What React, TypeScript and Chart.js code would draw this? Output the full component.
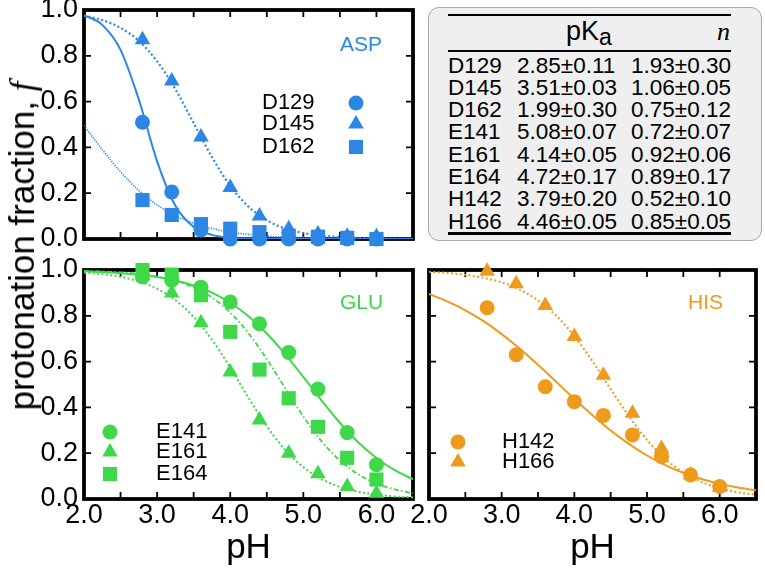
import React, { useEffect, useRef } from 'react';
import { Chart, registerables } from 'chart.js';

Chart.register(...registerables);

const FONT = '"Liberation Sans", Arial, Helvetica, sans-serif';
const SERIF = '"Liberation Serif", "DejaVu Serif", serif';
const BLUE = '#2b86e6';
const GREEN = '#3fd84a';
const ORANGE = '#ee9a1c';

// measured pH values of the data points
const phPoints = [2.8, 3.2, 3.6, 4.0, 4.4, 4.8, 5.2, 5.6, 6.0];
// pH grid of the fitted curves
const phFit = [2.0, 2.25, 2.5, 2.75, 3.0, 3.25, 3.5, 3.75, 4.0, 4.25, 4.5, 4.75, 5.0, 5.25, 5.5, 5.75, 6.0, 6.25, 6.5];

// ASP
const d129Pts = [0.51, 0.205, 0.04, 0.0, 0.0, 0.0, 0.0, 0.0, 0.0];
const d145Pts = [0.87, 0.69, 0.445, 0.225, 0.1, 0.045, 0.022, 0.012, 0.01];
const d162Pts = [0.17, 0.105, 0.065, 0.045, 0.03, 0.015, 0.01, 0.005, 0.0];
const d129Fit = [0.978, 0.935, 0.826, 0.609, 0.339, 0.145, 0.053, 0.018, 0.006, 0.002, 0.001, 0, 0, 0, 0, 0, 0, 0, 0];
const d145Fit = [0.975, 0.956, 0.922, 0.865, 0.776, 0.654, 0.506, 0.358, 0.232, 0.141, 0.082, 0.046, 0.026, 0.014, 0.008, 0.004, 0.002, 0.001, 0.001];
const d162Fit = [0.496, 0.39, 0.293, 0.212, 0.149, 0.102, 0.069, 0.046, 0.03, 0.02, 0.013, 0.008, 0.006, 0.004, 0.002, 0.002, 0.001, 0.001, 0.0];

// GLU
const e141Pts = [0.97, 0.955, 0.925, 0.86, 0.765, 0.64, 0.48, 0.29, 0.15];
const e161Pts = [0.975, 0.9, 0.77, 0.555, 0.345, 0.2, 0.11, 0.055, 0.025];
const e164Pts = [1.0, 0.98, 0.89, 0.73, 0.565, 0.44, 0.315, 0.18, 0.085];
const e141Fit = [0.994, 0.991, 0.986, 0.979, 0.969, 0.954, 0.932, 0.901, 0.857, 0.798, 0.723, 0.633, 0.533, 0.43, 0.333, 0.248, 0.179, 0.126, 0.087];
const e161Fit = [0.989, 0.982, 0.97, 0.95, 0.918, 0.868, 0.795, 0.696, 0.574, 0.442, 0.318, 0.215, 0.139, 0.087, 0.053, 0.032, 0.019, 0.011, 0.007];
const e164Fit = [0.996, 0.994, 0.99, 0.983, 0.971, 0.953, 0.924, 0.88, 0.814, 0.724, 0.611, 0.485, 0.36, 0.252, 0.168, 0.108, 0.068, 0.042, 0.025];

// HIS
const h142Pts = [0.835, 0.63, 0.49, 0.425, 0.365, 0.28, 0.185, 0.105, 0.055];
const h166Pts = [0.995, 0.94, 0.845, 0.71, 0.54, 0.375, 0.22, 0.105, 0.05];
const h142Fit = [0.895, 0.863, 0.824, 0.777, 0.72, 0.656, 0.586, 0.512, 0.437, 0.366, 0.299, 0.241, 0.19, 0.148, 0.114, 0.087, 0.066, 0.05, 0.038];
const h166Fit = [0.992, 0.987, 0.979, 0.966, 0.946, 0.914, 0.867, 0.801, 0.711, 0.601, 0.48, 0.362, 0.258, 0.176, 0.116, 0.074, 0.047, 0.029, 0.018];

// table
const residues = ['D129', 'D145', 'D162', 'E141', 'E161', 'E164', 'H142', 'H166'];
const pKaText = ['2.85±0.11', '3.51±0.03', '1.99±0.30', '5.08±0.07', '4.14±0.05', '4.72±0.17', '3.79±0.20', '4.46±0.05'];
const nText = ['1.93±0.30', '1.06±0.05', '0.75±0.12', '0.72±0.07', '0.92±0.06', '0.89±0.17', '0.52±0.10', '0.85±0.05'];

const W = 765;
const H = 569;

type Series = {
  label: string; pts: number[]; fit: number[]; style: string; radius: number; dash: number[]; width: number;
};

type Panel = {
  tag: string; color: string;
  area: { l: number; t: number; r: number; b: number };
  showX: boolean; showY: boolean;
  series: Series[];
  tagPos: { x: number; y: number };
  legend: { label: string; textX: number; markerX: number; y: number }[];
};

const panels: Panel[] = [
  {
    tag: 'ASP', color: BLUE, area: { l: 84, t: 10, r: 413, b: 239 }, showX: false, showY: true,
    series: [
      { label: 'D129', pts: d129Pts, fit: d129Fit, style: 'circle', radius: 7.5, dash: [], width: 2 },
      { label: 'D145', pts: d145Pts, fit: d145Fit, style: 'triangle', radius: 9, dash: [2, 2.4], width: 2.2 },
      { label: 'D162', pts: d162Pts, fit: d162Fit, style: 'rect', radius: 10, dash: [1.2, 1.3], width: 1.6 },
    ],
    tagPos: { x: 256, y: 35 },
    legend: [
      { label: 'D129', textX: 178, markerX: 272, y: 93 },
      { label: 'D145', textX: 178, markerX: 272, y: 114 },
      { label: 'D162', textX: 178, markerX: 272, y: 137 },
    ],
  },
  {
    tag: 'GLU', color: GREEN, area: { l: 84, t: 270, r: 413, b: 499 }, showX: true, showY: true,
    series: [
      { label: 'E141', pts: e141Pts, fit: e141Fit, style: 'circle', radius: 7.5, dash: [], width: 2 },
      { label: 'E161', pts: e161Pts, fit: e161Fit, style: 'triangle', radius: 9, dash: [2, 2.4], width: 2 },
      { label: 'E164', pts: e164Pts, fit: e164Fit, style: 'rect', radius: 10, dash: [5, 2.5, 1.5, 2.5], width: 1.8 },
    ],
    tagPos: { x: 256, y: 33 },
    legend: [
      { label: 'E141', textX: 72, markerX: 26, y: 162 },
      { label: 'E161', textX: 72, markerX: 26, y: 182 },
      { label: 'E164', textX: 72, markerX: 26, y: 204 },
    ],
  },
  {
    tag: 'HIS', color: ORANGE, area: { l: 429, t: 270, r: 758, b: 499 }, showX: true, showY: false,
    series: [
      { label: 'H142', pts: h142Pts, fit: h142Fit, style: 'circle', radius: 7.5, dash: [], width: 2 },
      { label: 'H166', pts: h166Pts, fit: h166Fit, style: 'triangle', radius: 9, dash: [2, 2.4], width: 2 },
    ],
    tagPos: { x: 259, y: 33 },
    legend: [
      { label: 'H142', textX: 73, markerX: 29, y: 172 },
      { label: 'H166', textX: 73, markerX: 29, y: 192 },
    ],
  },
];

function drawMarker(ctx: CanvasRenderingContext2D, style: string, x: number, y: number, r: number, color: string) {
  ctx.fillStyle = color;
  ctx.beginPath();
  if (style === 'circle') {
    ctx.arc(x, y, r, 0, Math.PI * 2);
  } else if (style === 'rect') {
    const s = Math.SQRT1_2 * r;
    ctx.rect(x - s, y - s, 2 * s, 2 * s);
  } else {
    for (let k = 0; k < 3; k++) {
      const a = (k * 2 * Math.PI) / 3;
      const px = x + Math.sin(a) * r;
      const py = y - Math.cos(a) * r;
      if (k === 0) ctx.moveTo(px, py); else ctx.lineTo(px, py);
    }
  }
  ctx.closePath();
  ctx.fill();
}

function makeConfig(p: Panel): any {
  const pointSets = p.series.slice().reverse().map((s) => ({
    label: s.label,
    data: phPoints.map((x, i) => ({ x, y: s.pts[i] })),
    showLine: false,
    pointStyle: s.style,
    pointRadius: s.radius,
    pointHoverRadius: s.radius,
    pointBackgroundColor: p.color,
    pointBorderColor: p.color,
    pointBorderWidth: 0,
    backgroundColor: p.color,
    borderColor: p.color,
    clip: false,
  }));
  const fitSets = p.series.map((s) => ({
    label: s.label + ' fit',
    data: phFit.map((x, i) => ({ x, y: s.fit[i] })),
    showLine: true,
    pointRadius: 0,
    pointHoverRadius: 0,
    borderColor: p.color,
    borderWidth: s.width,
    borderDash: s.dash,
    cubicInterpolationMode: 'monotone',
    fill: false,
  }));

  const framePlugin = {
    id: 'frame' + p.tag,
    beforeDatasetsDraw(chart: any) {
      const { ctx, chartArea: a, scales } = chart;
      ctx.save();
      ctx.strokeStyle = '#000';
      ctx.lineWidth = 1.8;
      const TL = 7;
      ctx.beginPath();
      for (const t of scales.x.ticks) {
        const px = scales.x.getPixelForValue(t.value);
        ctx.moveTo(px, a.bottom); ctx.lineTo(px, a.bottom - TL);
        ctx.moveTo(px, a.top); ctx.lineTo(px, a.top + TL);
      }
      for (const t of scales.y.ticks) {
        const py = scales.y.getPixelForValue(t.value);
        ctx.moveTo(a.left, py); ctx.lineTo(a.left + TL, py);
        ctx.moveTo(a.right, py); ctx.lineTo(a.right - TL, py);
      }
      ctx.stroke();
      ctx.lineWidth = 3.8;
      ctx.strokeRect(a.left, a.top, a.right - a.left, a.bottom - a.top);
      ctx.restore();
    },
    afterDatasetsDraw(chart: any) {
      const { ctx, chartArea: a } = chart;
      ctx.save();
      ctx.textBaseline = 'middle';
      ctx.textAlign = 'left';
      ctx.fillStyle = p.color;
      ctx.font = `21px ${FONT}`;
      ctx.fillText(p.tag, a.left + p.tagPos.x, a.top + p.tagPos.y);
      for (const it of p.legend) {
        const ds = chart.data.datasets.find((d: any) => d.label === it.label);
        ctx.fillStyle = '#000';
        ctx.font = `22px ${FONT}`;
        ctx.fillText(ds.label, a.left + it.textX, a.top + it.y);
        drawMarker(ctx, ds.pointStyle, a.left + it.markerX, a.top + it.y, ds.pointRadius, p.color);
      }
      ctx.restore();
    },
  };

  const XH = p.showX ? 70 : 0;
  return {
    type: 'scatter',
    data: { datasets: [...pointSets, ...fitSets] },
    plugins: [framePlugin],
    options: {
      responsive: false,
      animation: false,
      devicePixelRatio: 1,
      events: [],
      layout: { padding: { left: 0, top: p.area.t, right: W - p.area.r, bottom: H - p.area.b - XH } },
      plugins: { legend: { display: false }, tooltip: { enabled: false }, title: { display: false } },
      scales: {
        x: {
          type: 'linear', min: 2, max: 6.5,
          grid: { display: false, drawTicks: false },
          border: { display: false },
          ticks: {
            display: p.showX, stepSize: 0.5, autoSkip: false, maxRotation: 0, padding: 0,
            color: '#000', font: { family: FONT, size: 27 },
            callback: (v: number) => (Math.abs(v - Math.round(v)) < 1e-6 ? v.toFixed(1) : ''),
          },
          title: { display: p.showX, text: 'pH', color: '#000', font: { family: FONT, size: 35 }, padding: { top: 0, bottom: 0 } },
          afterFit: (s: any) => { s.height = XH; s.paddingLeft = 0; s.paddingRight = 0; },
        },
        y: {
          type: 'linear', min: 0, max: 1,
          grid: { display: false, drawTicks: false },
          border: { display: false },
          ticks: {
            display: p.showY, stepSize: 0.2, padding: 6,
            color: '#000', font: { family: FONT, size: 27 },
            callback: (v: number) => v.toFixed(1),
          },
          afterFit: (s: any) => { s.width = p.area.l; s.paddingTop = 0; s.paddingBottom = 0; },
        },
      },
    },
  };
}

function PanelChart({ panel }: { panel: Panel }) {
  const ref = useRef<HTMLCanvasElement>(null);
  useEffect(() => {
    const chart = new Chart(ref.current as HTMLCanvasElement, makeConfig(panel));
    return () => chart.destroy();
  }, [panel]);
  return <canvas ref={ref} width={W} height={H} style={{ position: 'absolute', left: 0, top: 0, width: W, height: H }} />;
}

function PkaTable() {
  const rowTop = (i: number) => 45.5 + 22.3 * i;
  const cell = { position: 'absolute' as const, fontSize: 22.5, lineHeight: '23px', whiteSpace: 'nowrap' as const };
  return (
    <div style={{
      position: 'absolute', left: 428, top: 7, width: 334, height: 234, background: '#efefef',
      border: '1px solid #a8a8a8', borderRadius: 11, boxSizing: 'border-box', fontFamily: FONT, color: '#000',
    }}>
      <div style={{ position: 'absolute', left: 19, top: 6, width: 283, height: 2, background: '#000' }} />
      <div style={{ position: 'absolute', left: 137, top: 8, fontSize: 27, lineHeight: '30px', whiteSpace: 'nowrap' }}>
        pK<span style={{ fontSize: 23, position: 'relative', top: 5 }}>a</span>
      </div>
      <div style={{ position: 'absolute', right: 31, top: 11, fontSize: 26, lineHeight: '26px', fontFamily: SERIF, fontStyle: 'italic' }}>n</div>
      <div style={{ position: 'absolute', left: 19, top: 42, width: 283, height: 2, background: '#000' }} />
      {residues.map((r, i) => (
        <React.Fragment key={r}>
          <div style={{ ...cell, left: 19, top: rowTop(i) }}>{r}</div>
          <div style={{ ...cell, left: 88, top: rowTop(i) }}>{pKaText[i]}</div>
          <div style={{ ...cell, right: 30, top: rowTop(i) }}>{nText[i]}</div>
        </React.Fragment>
      ))}
      <div style={{ position: 'absolute', left: 19, top: 223.5, width: 283, height: 3, background: '#000' }} />
    </div>
  );
}

export default function App() {
  return (
    <div style={{ position: 'fixed', left: 0, top: 0, width: W, height: H, background: '#fff', overflow: 'hidden' }}>
      {panels.map((p) => <PanelChart key={p.tag} panel={p} />)}
      <PkaTable />
      <div style={{
        position: 'absolute', left: 22, top: 246, transform: 'translate(-50%, -50%) rotate(-90deg)',
        whiteSpace: 'nowrap', fontFamily: FONT, fontSize: 35, lineHeight: 1, color: '#000',
      }}>
        protonation fraction, <span style={{ fontFamily: SERIF, fontStyle: 'italic' }}>f</span>
      </div>
    </div>
  );
}
